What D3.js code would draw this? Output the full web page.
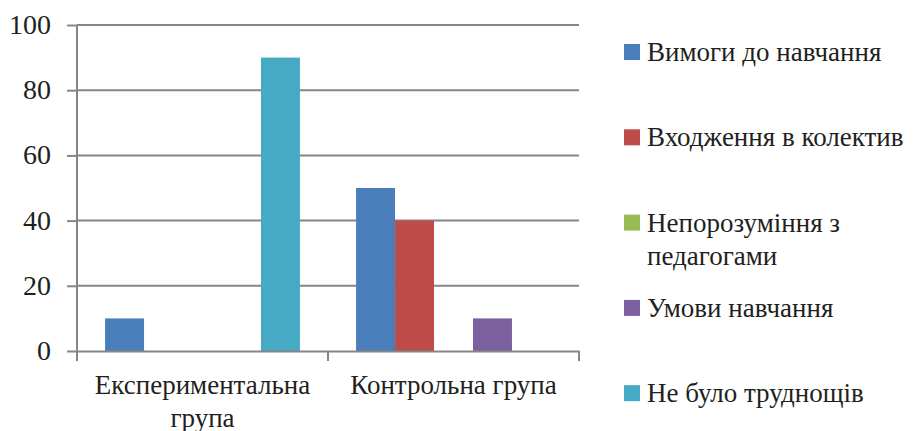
<!DOCTYPE html>
<html>
<head>
<meta charset="utf-8">
<script src="https://cdn.jsdelivr.net/npm/d3@7"></script>
<style>
  body { margin: 0; background: #fff; }
</style>
</head>
<body>
<div id="chart"></div>
<script>
// groups along the x axis
var categories = ['Експериментальна група', 'Контрольна група'];
// series names (legend order)
var seriesNames = ['Вимоги до навчання', 'Входження в колектив', 'Непорозуміння з педагогами', 'Умови навчання', 'Не було труднощів'];
var seriesColors = ['#4a7ebb', '#be4b48', '#98b954', '#7d60a0', '#46aac5'];
// values per series, one per category
var vimogi = [10, 50];
var vhodzhennya = [0, 40];
var neporozuminnya = [0, 0];
var umovy = [0, 10];
var neBulo = [90, 0];
var seriesValues = [vimogi, vhodzhennya, neporozuminnya, umovy, neBulo];
var yTicks = [0, 20, 40, 60, 80, 100];

var FONT = '"Times New Roman", "Liberation Serif", "DejaVu Serif", serif';
var width = 917, height = 431;
var margin = {left: 77, right: 338, top: 25, bottom: 80};

var svg = d3.select('#chart').append('svg')
    .attr('width', width)
    .attr('height', height);

var x0 = d3.scaleBand()
    .domain(categories)
    .range([margin.left, width - margin.right]);

var x1 = d3.scaleBand()
    .domain(seriesNames)
    .range([0, x0.bandwidth()])
    .paddingOuter(0.72);

var y = d3.scaleLinear()
    .domain([0, 100])
    .range([height - margin.bottom, margin.top]);

// gridlines + y labels
var yAxis = svg.append('g')
    .attr('transform', 'translate(' + margin.left + ',0)')
    .call(d3.axisLeft(y).tickValues(yTicks).tickSize(10).tickPadding(16));
yAxis.attr('font-family', null);
yAxis.select('.domain').remove();
yAxis.selectAll('.tick line').attr('stroke', '#868686').attr('stroke-width', 2);
yAxis.selectAll('.tick text').attr('font-size', 28).attr('fill', '#231f20').attr('dy', '0.3em')
    .style('font-family', FONT);

svg.append('g')
  .selectAll('line')
  .data(yTicks.filter(function(d) { return d > 0; }))
  .enter().append('line')
    .attr('x1', margin.left).attr('x2', width - margin.right)
    .attr('y1', function(d) { return y(d); }).attr('y2', function(d) { return y(d); })
    .attr('stroke', '#868686').attr('stroke-width', 2);

// bars
var groups = svg.append('g').selectAll('g')
    .data(categories)
    .enter().append('g')
    .attr('transform', function(d) { return 'translate(' + x0(d) + ',0)'; });

groups.selectAll('rect')
    .data(function(c, ci) {
      return seriesNames.map(function(s, si) { return {s: s, i: si, v: seriesValues[si][ci]}; });
    })
    .enter().append('rect')
    .attr('x', function(d) { return x1(d.s); })
    .attr('width', x1.bandwidth())
    .attr('y', function(d) { return y(d.v); })
    .attr('height', function(d) { return y(0) - y(d.v); })
    .attr('fill', function(d) { return seriesColors[d.i]; });

// y axis line
svg.append('line')
    .attr('x1', margin.left).attr('x2', margin.left)
    .attr('y1', y(100)).attr('y2', y(0) + 10)
    .attr('stroke', '#868686').attr('stroke-width', 2);

// x axis
var xAxis = svg.append('g')
    .attr('transform', 'translate(0,' + y(0) + ')')
    .call(d3.axisBottom(x0).tickSize(0).tickPadding(0));
xAxis.select('.domain').attr('stroke', '#868686').attr('stroke-width', 2);
xAxis.selectAll('.tick text').remove();

var bounds = [margin.left, x0(categories[1]), width - margin.right];
xAxis.selectAll('.sep')
    .data(bounds)
    .enter().append('line')
    .attr('class', 'sep')
    .attr('x1', function(d) { return d; }).attr('x2', function(d) { return d; })
    .attr('y1', 0).attr('y2', 10)
    .attr('stroke', '#868686').attr('stroke-width', 2);

var catLines = [['Експериментальна', 'група'], ['Контрольна група']];
xAxis.selectAll('.cat')
    .data(categories)
    .enter().append('text')
    .attr('class', 'cat')
    .attr('x', function(d) { return x0(d) + x0.bandwidth() / 2; })
    .attr('y', 43)
    .attr('text-anchor', 'middle')
    .attr('font-size', 27)
    .attr('fill', '#231f20')
    .style('font-family', FONT)
    .selectAll('tspan')
    .data(function(d, i) { return catLines[i]; })
    .enter().append('tspan')
    .attr('x', function() { return this.parentNode.getAttribute('x'); })
    .attr('dy', function(d, i) { return i ? 33 : 0; })
    .text(function(d) { return d; });

// legend
var legendLines = [['Вимоги до навчання'], ['Входження в колектив'], ['Непорозуміння з', 'педагогами'], ['Умови навчання'], ['Не було труднощів']];
var legend = svg.append('g').selectAll('g')
    .data(seriesNames)
    .enter().append('g')
    .attr('transform', function(d, i) { return 'translate(624,' + (44 + i * 85.3) + ')'; });

legend.append('rect')
    .attr('width', 16).attr('height', 16)
    .attr('fill', function(d, i) { return seriesColors[i]; });

legend.append('text')
    .attr('x', 23)
    .attr('y', 17)
    .attr('font-size', 27)
    .attr('fill', '#231f20')
    .style('font-family', FONT)
    .selectAll('tspan')
    .data(function(d, i) { return legendLines[i]; })
    .enter().append('tspan')
    .attr('x', 23)
    .attr('dy', function(d, i) { return i ? 33 : 0; })
    .text(function(d) { return d; });
</script>
</body>
</html>
